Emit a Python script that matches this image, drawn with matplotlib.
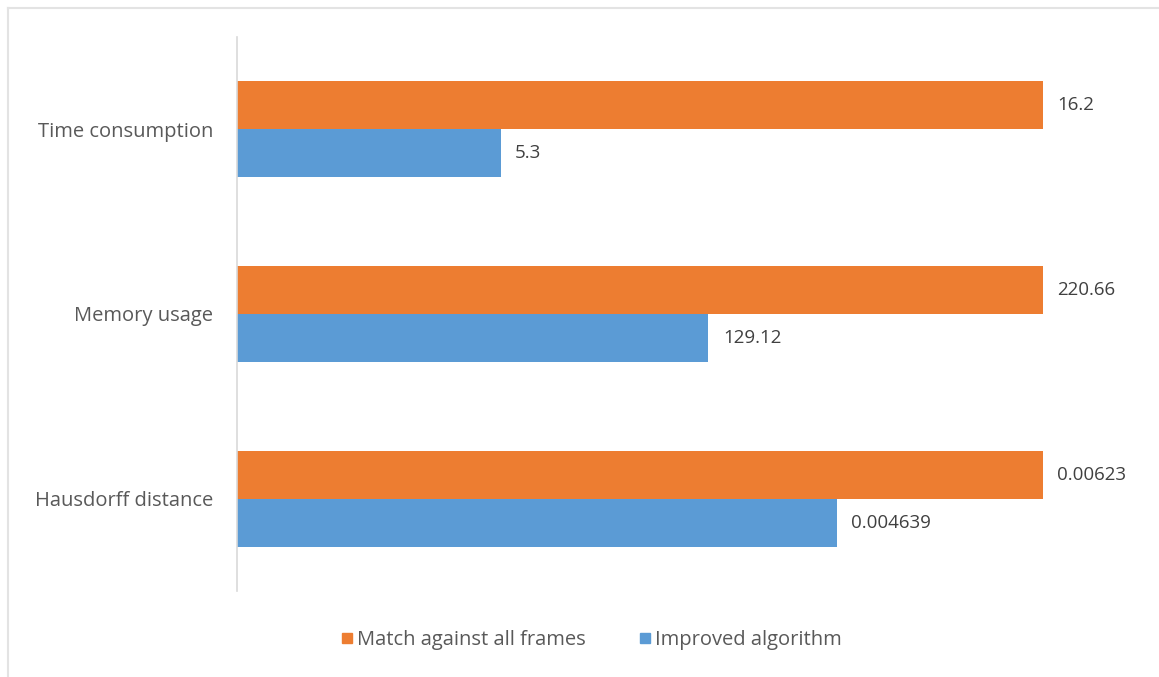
import matplotlib.pyplot as plt
from matplotlib.lines import Line2D
import numpy as np

plt.rcParams['font.family'] = ['Open Sans', 'DejaVu Sans']

categories = ['Time consumption', 'Memory usage', 'Hausdorff distance']
match_all = [16.2, 220.66, 0.00623]
improved = [5.3, 129.12, 0.004639]
match_labels = ['16.2', '220.66', '0.00623']
improved_labels = ['5.3', '129.12', '0.004639']

orange = '#ED7D31'
blue = '#5B9BD5'

# each metric has its own unit, so scale each pair by its larger value
scale = np.array(match_all)
m = np.array(match_all) / scale
im = np.array(improved) / scale

fig = plt.figure(figsize=(11.59, 6.77), dpi=100)
W, H = 1159, 677
ax = fig.add_axes([237 / W, 1 - 591 / H, 900 / W, 554 / H])

y = np.arange(len(categories))
h = 0.26
ax.barh(y - h / 2, m, height=h, color=orange, label='Match against all frames')
ax.barh(y + h / 2, im, height=h, color=blue, label='Improved algorithm')

for yi, v, lab in zip(y, m, match_labels):
    ax.text(v + 0.018, yi - h / 2, lab, va='center', ha='left', fontsize=13.5, color='#404040')
for yi, v, lab in zip(y, im, improved_labels):
    ax.text(v + 0.018, yi + h / 2, lab, va='center', ha='left', fontsize=13.5, color='#404040')

ax.set_ylim(len(categories) - 0.5, -0.5)
ax.set_xlim(0, 1.117)
ax.set_yticks(y)
ax.set_yticklabels(categories, fontsize=14.5, color='#595959')
ax.tick_params(axis='y', length=0, pad=17)
ax.set_xticks([])
for s in ['top', 'right', 'bottom']:
    ax.spines[s].set_visible(False)
ax.spines['left'].set_color('#d9d9d9')
ax.spines['left'].set_linewidth(1.2)

handles = [Line2D([], [], marker='s', linestyle='none', markersize=7.5, color=orange),
           Line2D([], [], marker='s', linestyle='none', markersize=7.5, color=blue)]
fig.legend(handles, ['Match against all frames', 'Improved algorithm'],
           loc='center', bbox_to_anchor=(591 / W, 1 - 640 / H), ncol=2, frameon=False,
           fontsize=14.5, labelcolor='#595959', handletextpad=0.15, columnspacing=2.6,
           handlelength=0.7)

# light frame on the left and top edges
fig.add_artist(Line2D([8 / W, 8 / W], [0, 1 - 8 / H], color='#e3e3e3', lw=1.5))
fig.add_artist(Line2D([8 / W, 1], [1 - 8 / H, 1 - 8 / H], color='#e3e3e3', lw=1.5))

fig.savefig('out.png', dpi=100, facecolor='white')
